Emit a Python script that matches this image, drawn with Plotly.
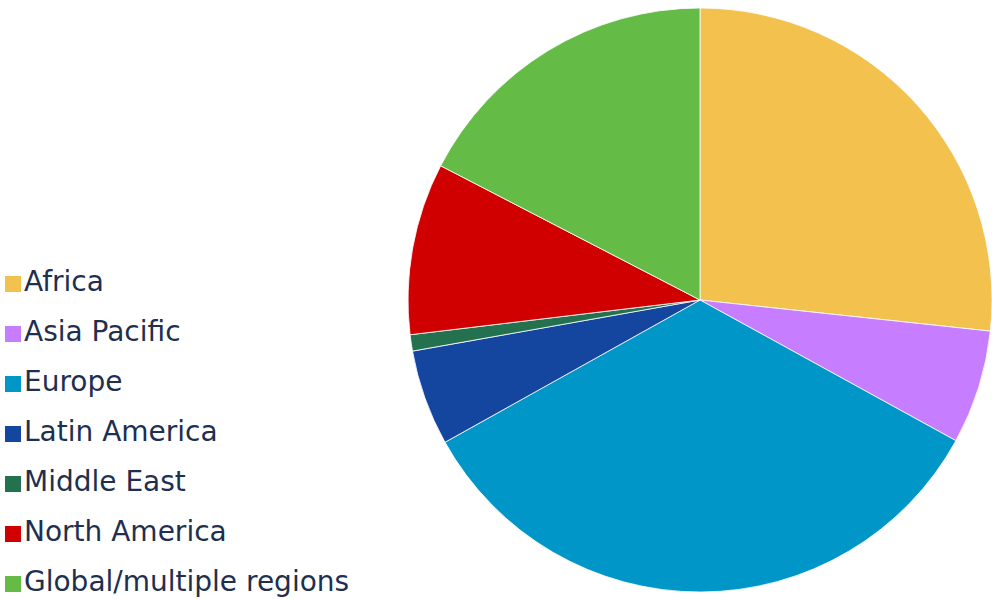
import plotly.graph_objects as go

labels = ["Africa", "Asia Pacific", "Europe", "Latin America", "Middle East",
          "North America", "Global/multiple regions"]
values = [26.7, 6.3, 33.9, 5.3, 0.9, 9.5, 17.4]
colors = ["#F2C14E", "#C77DFF", "#0096C7", "#1446A0", "#23714F", "#D00000", "#64BB46"]

W, H = 992, 599

fig = go.Figure()
fig.add_trace(go.Pie(
    labels=labels, values=values, sort=False, direction="clockwise", rotation=0,
    marker=dict(colors=colors, line=dict(color="white", width=0.8)),
    textinfo="none", hoverinfo="label+percent", showlegend=False,
    domain=dict(x=[408/W, 1], y=[6/H, 592/H]),
))

# legend drawn as a key: one square marker + label per category
rows = list(range(len(labels)))
fig.add_trace(go.Scatter(
    x=[13] * len(labels), y=rows, mode="markers+text",
    text=labels, textposition="middle right",
    textfont=dict(family="DejaVu Sans", size=28, color="#1E2F4F"),
    marker=dict(symbol="square", size=16, color=colors),
    hoverinfo="text", showlegend=False, cliponaxis=False,
))

row_px, first_px = 50, 284
fig.update_layout(
    width=W, height=H, margin=dict(l=0, r=0, t=0, b=0),
    paper_bgcolor="white", plot_bgcolor="rgba(0,0,0,0)",
    xaxis=dict(visible=False, range=[0, W], domain=[0, 1], fixedrange=True),
    yaxis=dict(visible=False, domain=[0, 1], fixedrange=True,
               range=[(H - first_px) / row_px, -first_px / row_px]),
    showlegend=False,
)
fig.write_html("out.html")
